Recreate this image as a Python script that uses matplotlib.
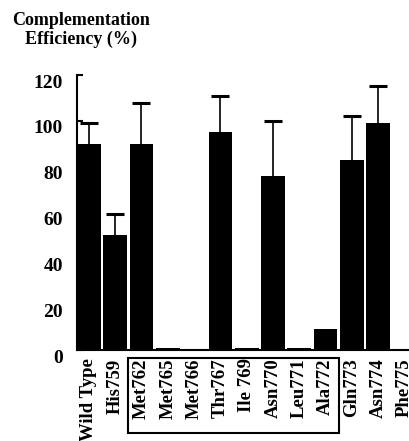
import numpy as np
import matplotlib
matplotlib.use("Agg")
import matplotlib.pyplot as plt
import matplotlib.transforms as mtransforms
from matplotlib.patches import Rectangle

# data
labels = ["Wild Type", "His759", "Met762", "Met765", "Met766", "Thr767", "Ile 769",
          "Asn770", "Leu771", "Ala772", "Gln773", "Asn774", "Phe775"]
efficiency = [90, 50, 90, 1, 0, 95, 1, 76, 1, 9, 83, 99, 0]
error_up = [9, 9.5, 18, 0, 0, 16, 0, 24, 0, 0, 19, 16, 0]
y_ticks = [0, 20, 40, 60, 80, 100, 120]

plt.rcParams['font.family'] = ['Liberation Serif', 'DejaVu Serif']
plt.rcParams['font.weight'] = 'bold'

fig = plt.figure(figsize=(4.09, 4.41), dpi=100)
ax = fig.add_axes([0.1883, 0.2063, 0.8117, 0.6236])

x = np.arange(len(labels))
vals = np.array(efficiency, dtype=float)
errs = np.array(error_up, dtype=float)

ax.bar(x, vals, width=0.9, color='black', edgecolor='none', zorder=2)
has_err = errs > 0
ax.errorbar(x[has_err], vals[has_err], yerr=errs[has_err], fmt='none',
            ecolor='black', elinewidth=1.2, capsize=6.5, capthick=2.2, zorder=1)

ax.set_xlim(-0.45, 12.17)
ax.set_ylim(0, 120)
ax.spines['top'].set_visible(False)
ax.spines['right'].set_visible(False)
ax.spines['left'].set_linewidth(1.5)
ax.spines['bottom'].set_linewidth(1.5)

ax.set_yticks(y_ticks)
ax.set_yticklabels([str(t) for t in y_ticks], fontsize=14, fontweight='bold')
ax.tick_params(axis='y', direction='in', length=4, width=1.5, pad=10)
offset = mtransforms.ScaledTranslation(0, -6 / 100, fig.dpi_scale_trans)
for lab in ax.get_yticklabels():
    lab.set_transform(lab.get_transform() + offset)

ax.set_xticks(x)
ax.set_xticklabels(labels, rotation=90, fontsize=13.5, fontweight='bold', va='top')
ax.tick_params(axis='x', length=0, pad=6)

# box around the central mutants
trans = mtransforms.blended_transform_factory(ax.transData, fig.transFigure)
box = Rectangle((1.5, 1 - 433 / 441), 8.0, (433 - 358) / 441, transform=trans,
                fill=False, edgecolor='black', linewidth=1.5, clip_on=False)
fig.add_artist(box)

fig.text(81 / 409, 1 - 30 / 441, "Complementation\nEfficiency (%)", ha='center', va='center',
         fontsize=13, fontweight='bold', linespacing=1.15)

fig.savefig("out.png", dpi=100)
